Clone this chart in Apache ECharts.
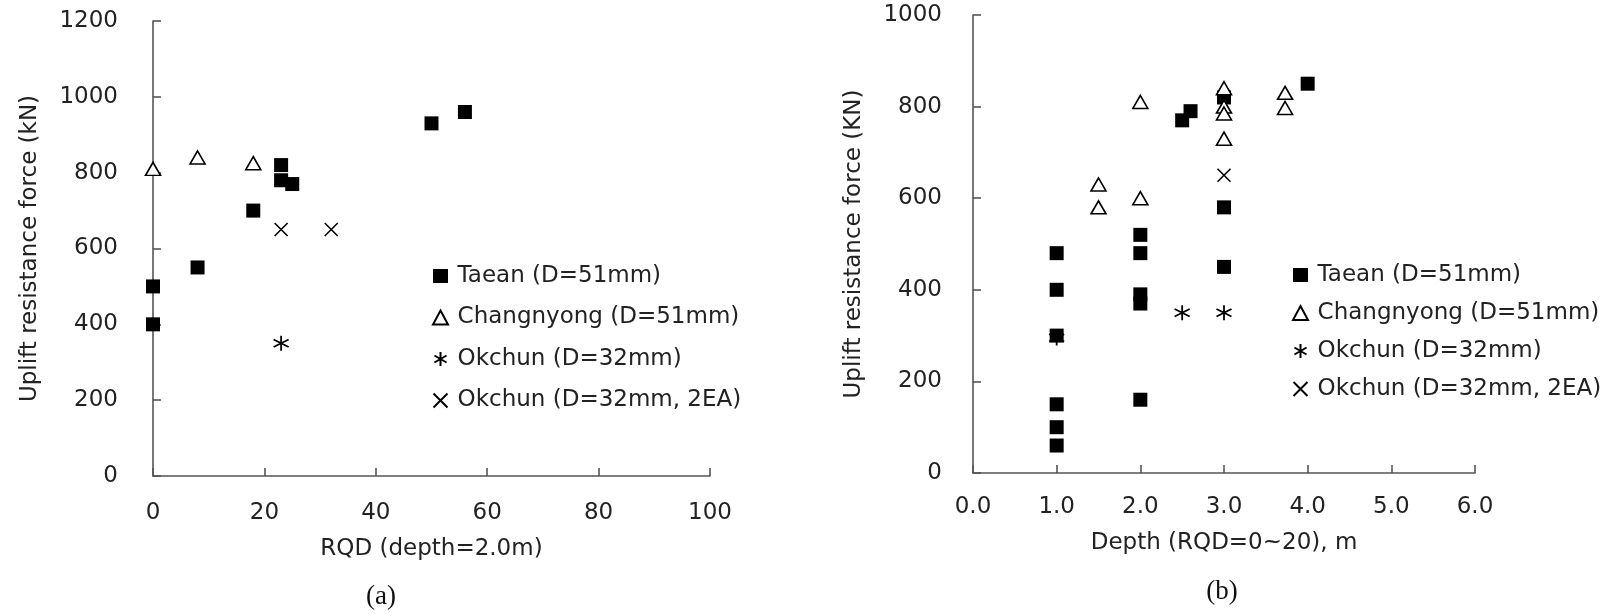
<!DOCTYPE html>
<html>
<head>
<meta charset="utf-8">
<script src="https://cdn.jsdelivr.net/npm/echarts@6/dist/echarts.min.js"></script>
<style>
html,body{margin:0;padding:0;background:#fff;}
#chart{width:1620px;height:614px;}
</style>
</head>
<body>
<div id="chart"></div>
<script>
// ---- Data (a): RQD vs uplift resistance ----
const seriesNames = ['Taean (D=51mm)', 'Changnyong (D=51mm)', 'Okchun (D=32mm)', 'Okchun (D=32mm, 2EA)'];
const taeanA = [[0,500],[0,400],[8,550],[18,700],[23,820],[23,780],[25,770],[50,930],[56,960]];
const changA = [[0,810],[8,840],[18,825]];
const okchunA = [[23,350]];
const okchun2A = [[23,650],[32,650]];
// ---- Data (b): Depth vs uplift resistance ----
const taeanB = [[1,480],[1,400],[1,300],[1,150],[1,100],[1,60],[2,520],[2,480],[2,390],[2,370],[2,160],[2.5,770],[2.6,790],[3,820],[3,580],[3,450],[4,850]];
const changB = [[1.5,630],[1.5,580],[2,810],[2,600],[3,840],[3,800],[3,785],[3,730],[3.73,830],[3.73,797]];
const okchunB = [[1,295],[2.5,350],[3,350]];
const okchun2B = [[3,650]];
// axis ranges / ticks
const axA = {xMin:0, xMax:100, xStep:20, yMin:0, yMax:1200, yStep:200};
const axB = {xMin:0, xMax:6, xStep:1, yMin:0, yMax:1000, yStep:200};
const xTitleA = 'RQD (depth=2.0m)';
const yTitleA = 'Uplift resistance force (kN)';
const xTitleB = 'Depth (RQD=0~20), m';
const yTitleB = 'Uplift resistance force (KN)';
const captions = ['(a)', '(b)'];

const FONT = 'DejaVu Sans';
const TXT = '#222';
const AXC = '#555';
const ASTER = 'path://M5,0L5,10M0.67,2.5L9.33,7.5M9.33,2.5L0.67,7.5';
const CROSS = 'path://M0,0L10,10M10,0L0,10';

function makeSeries(name, data, gi) {
  const base = {name: name, type: 'scatter', data: data, xAxisIndex: gi, yAxisIndex: gi};
  if (name === seriesNames[0]) {
    return Object.assign(base, {symbol: 'rect', symbolSize: 14, z: 2, itemStyle: {color: '#000', opacity: 1}});
  } else if (name === seriesNames[1]) {
    return Object.assign(base, {symbol: 'triangle', symbolSize: [15, 13], z: 3, itemStyle: {color: '#fff', borderColor: '#000', borderWidth: 1.6, opacity: 1}});
  } else if (name === seriesNames[2]) {
    return Object.assign(base, {symbol: ASTER, symbolSize: 15, z: 4, itemStyle: {color: 'none', borderColor: '#000', borderWidth: 1.8, opacity: 1}});
  } else {
    return Object.assign(base, {symbol: CROSS, symbolSize: 13, z: 4, itemStyle: {color: 'none', borderColor: '#000', borderWidth: 1.6, opacity: 1}});
  }
}

function xAxisOf(gi, ax, title, fmt, margin, gap) {
  return {
    type: 'value', gridIndex: gi, min: ax.xMin, max: ax.xMax, interval: ax.xStep,
    name: title, nameLocation: 'middle', nameGap: gap,
    nameTextStyle: {fontFamily: FONT, fontSize: 23, color: TXT},
    axisLine: {show: true, onZero: false, lineStyle: {color: AXC, width: 1.6}},
    axisTick: {show: true, inside: true, length: 8, lineStyle: {color: AXC, width: 1.6}},
    axisLabel: {fontFamily: FONT, fontSize: 23, color: TXT, margin: margin, formatter: fmt},
    splitLine: {show: false}
  };
}
function yAxisOf(gi, ax, title, margin, gap) {
  return {
    type: 'value', gridIndex: gi, min: ax.yMin, max: ax.yMax, interval: ax.yStep,
    name: title, nameLocation: 'middle', nameGap: gap,
    nameTextStyle: {fontFamily: FONT, fontSize: 23, color: TXT},
    axisLine: {show: true, onZero: false, lineStyle: {color: AXC, width: 1.6}},
    axisTick: {show: true, inside: true, length: 8, lineStyle: {color: AXC, width: 1.6}},
    axisLabel: {fontFamily: FONT, fontSize: 23, color: TXT, margin: margin, formatter: function (v) { return String(v); }},
    splitLine: {show: false}
  };
}
function legendOf(left, top, gap) {
  return {
    orient: 'vertical', left: left, top: top, padding: 0,
    itemWidth: 15, itemHeight: 14, itemGap: gap,
    selectedMode: false,
    data: seriesNames,
    formatter: function (n) { return '\u2009' + n; },
    textStyle: {fontFamily: FONT, fontSize: 23, color: TXT, lineHeight: 24}
  };
}

const chart = echarts.init(document.getElementById('chart'), null, {renderer: 'canvas'});
chart.setOption({
  animation: false,
  backgroundColor: '#fff',
  grid: [
    {left: 153, right: 910, top: 21, bottom: 138},
    {left: 973, right: 145, top: 15, bottom: 141}
  ],
  xAxis: [
    xAxisOf(0, axA, xTitleA, function (v) { return String(v); }, 26, 62),
    xAxisOf(1, axB, xTitleB, function (v) { return v.toFixed(1); }, 23, 59)
  ],
  yAxis: [
    yAxisOf(0, axA, yTitleA, 35, 111),
    yAxisOf(1, axB, yTitleB, 31, 107)
  ],
  legend: [legendOf(431, 264, 17.5), legendOf(1291, 263, 14)],
  graphic: [
    {type: 'text', x: 381, y: 597, style: {text: captions[0], font: '27px "Liberation Serif"', fill: '#111', align: 'center', verticalAlign: 'middle'}},
    {type: 'text', x: 1222, y: 592, style: {text: captions[1], font: '27px "Liberation Serif"', fill: '#111', align: 'center', verticalAlign: 'middle'}}
  ],
  series: [
    makeSeries(seriesNames[0], taeanA, 0),
    makeSeries(seriesNames[1], changA, 0),
    makeSeries(seriesNames[2], okchunA, 0),
    makeSeries(seriesNames[3], okchun2A, 0),
    makeSeries(seriesNames[0], taeanB, 1),
    makeSeries(seriesNames[1], changB, 1),
    makeSeries(seriesNames[2], okchunB, 1),
    makeSeries(seriesNames[3], okchun2B, 1)
  ]
});
</script>
</body>
</html>
